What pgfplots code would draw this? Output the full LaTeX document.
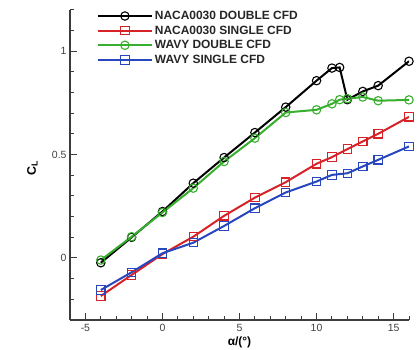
\documentclass[border=0pt]{standalone}
\usepackage{fontspec}
\setmainfont{Liberation Sans}
\usepackage{pgfplots}
\pgfplotsset{compat=1.18}
\definecolor{cred}{RGB}{215,35,40}
\definecolor{cgreen}{RGB}{55,175,45}
\definecolor{cblue}{RGB}{40,70,190}
\definecolor{axgray}{RGB}{60,60,60}
\tikzset{
  ser/.style={line width=2bp, mark size=4.2bp, mark options={solid, line width=1.1bp, fill=none}},
}
\begin{document}
\begin{tikzpicture}
\path[use as bounding box] (0,0) rectangle (420bp,350bp);
\begin{axis}[
  at={(70bp,30bp)}, anchor=south west,
  scale only axis, width=339bp, height=310bp,
  xmin=-6, xmax=16, ymin=-0.3, ymax=1.2,
  axis x line*=bottom, axis y line*=left,
  axis line style={-, axgray, line width=1.6bp},
  xtick={-5,0,5,10,15}, ytick={0,0.5,1},
  minor xtick={-6,-4,-3,-2,-1,1,2,3,4,6,7,8,9,11,12,13,14,16},
  minor ytick={-0.3,-0.2,-0.1,0.1,0.2,0.3,0.4,0.6,0.7,0.8,0.9,1.1,1.2},
  tick align=inside,
  major tick length=7bp, minor tick length=4bp,
  tick style={axgray, line width=1bp},
  every tick label/.append style={font=\fontsize{10.5}{12}\selectfont, text=black!75},
  /pgf/number format/assume math mode=true,
  xticklabel style={yshift=-1bp},
  xlabel={\textbf{α/(°)}},
  xlabel style={font=\fontsize{12}{13}\selectfont, at={(axis description cs:0.5,-0.083)}, anchor=base},
  ylabel={\textbf{C\textsubscript{L}}},
  ylabel style={font=\fontsize{12.5}{13}\selectfont, at={(axis description cs:-0.085,0.49)}, anchor=south},
  legend style={at={(axis description cs:0.07,1.01)}, anchor=north west, draw=none, fill=none,
    font=\fontsize{12}{14}\selectfont\bfseries, row sep=0.8bp, text=black!85},
  legend cell align=left,
  legend image code/.code={
    \draw[#1, mark repeat=2, mark phase=2] plot coordinates {(0bp,0bp) (27bp,0bp) (54bp,0bp)};
  },
]
\addplot[black, mark=o, ser] coordinates {
(-4,-0.023) (-2,0.10) (0,0.225) (2,0.362) (4,0.486) (6,0.607) (8,0.73) (10,0.858)
(11,0.919) (11.5,0.922) (12,0.766) (13,0.806) (14,0.834) (16,0.952)};
\addlegendentry{NACA0030 DOUBLE CFD}
\addplot[cred, mark=square, ser] coordinates {
(-4,-0.184) (-2,-0.082) (0,0.019) (2,0.103) (4,0.204) (6,0.292) (8,0.367) (10,0.456)
(11,0.488) (12,0.527) (13,0.564) (14,0.601) (16,0.683)};
\addlegendentry{NACA0030 SINGLE CFD}
\addplot[cgreen, mark=o, ser] coordinates {
(-4,-0.01) (-2,0.103) (0,0.22) (2,0.338) (4,0.467) (6,0.58) (8,0.704) (10,0.717)
(11,0.746) (11.5,0.766) (12,0.771) (13,0.779) (14,0.761) (16,0.765)};
\addlegendentry{WAVY DOUBLE CFD}
\addplot[cblue, mark=square, ser] coordinates {
(-4,-0.155) (-2,-0.069) (0,0.023) (2,0.074) (4,0.155) (6,0.241) (8,0.317) (10,0.37)
(11,0.402) (12,0.41) (13,0.443) (14,0.475) (16,0.54)};
\addlegendentry{WAVY SINGLE CFD}
\end{axis}
\end{tikzpicture}
\end{document}
